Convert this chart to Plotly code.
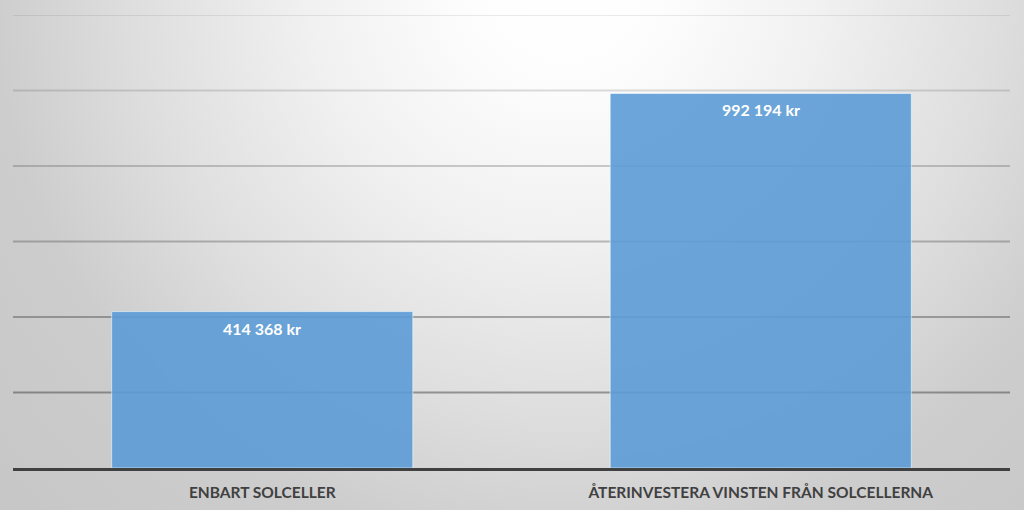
import base64
import plotly.graph_objects as go

categories = ["ENBART SOLCELLER", "ÅTERINVESTERA VINSTEN FRÅN SOLCELLERNA"]
values = [414368, 992194]
value_labels = ["414 368 kr", "992 194 kr"]
grid_values = [200000, 400000, 600000, 800000, 1000000, 1200000]
y_max = 1200000

W, H = 1024, 510
ML, MR, MT, MB = 13, 14, 15, 42
PW, PH = W - ML - MR, H - MT - MB

# radial background gradient (decoration only)
svg = f'''<svg xmlns="http://www.w3.org/2000/svg" width="{W}" height="{H}" viewBox="0 0 {W} {H}" preserveAspectRatio="none">
<defs><radialGradient id="g" gradientUnits="userSpaceOnUse" cx="565" cy="-20" r="820">
<stop offset="0" stop-color="#ffffff"/>
<stop offset="0.12" stop-color="#fdfdfd"/>
<stop offset="0.31" stop-color="#f1f1f1"/>
<stop offset="0.53" stop-color="#dedede"/>
<stop offset="0.70" stop-color="#cdcdcd"/>
<stop offset="1" stop-color="#c5c5c5"/>
</radialGradient></defs>
<rect x="0" y="0" width="{W}" height="{H}" fill="url(#g)"/>
</svg>'''
bg_uri = "data:image/svg+xml;base64," + base64.b64encode(svg.encode("utf-8")).decode("ascii")

fig = go.Figure()
fig.add_trace(go.Bar(
    x=categories,
    y=values,
    marker=dict(color="rgba(91,155,213,0.9)",
                line=dict(color="rgba(255,255,255,0.55)", width=1)),
    hoverinfo="skip",
))

# data labels inside the top of each bar
for c, v, t in zip(categories, values, value_labels):
    fig.add_annotation(x=c, y=v, text=f"<b>{t}</b>", showarrow=False,
                       yanchor="top", yshift=-5,
                       font=dict(family="Lato", size=16, color="white"))

# gridlines, darker toward the bottom
for gv in grid_values:
    frac = gv / y_max
    alpha = 0.55 - 0.45 * frac
    fig.add_shape(type="line", xref="paper", x0=0, x1=1, yref="y", y0=gv, y1=gv,
                  line=dict(color=f"rgba(60,60,60,{alpha:.3f})", width=2), layer="below")

fig.add_layout_image(dict(source=bg_uri, xref="paper", yref="paper",
                          x=-ML / PW, y=1 + MT / PH,
                          sizex=W / PW, sizey=H / PH,
                          xanchor="left", yanchor="top",
                          sizing="stretch", layer="below"))

fig.update_layout(
    width=W, height=H,
    margin=dict(l=ML, r=MR, t=MT, b=MB),
    paper_bgcolor="#d0d0d0",
    plot_bgcolor="rgba(0,0,0,0)",
    bargap=0.396,
    showlegend=False,
    xaxis=dict(showline=True, linecolor="#404040", linewidth=2.5,
               ticks="outside", ticklen=9, tickcolor="rgba(0,0,0,0)",
               tickfont=dict(family="Lato", size=15.5, color="#404040", weight="bold"),
               showgrid=False, fixedrange=True, automargin=False),
    yaxis=dict(range=[0, y_max], showgrid=False, zeroline=False,
               showticklabels=False, fixedrange=True, automargin=False),
)

fig.write_html("out.html", config={"displayModeBar": False},
               post_script="document.body.style.margin='0';document.body.style.overflow='hidden';")
